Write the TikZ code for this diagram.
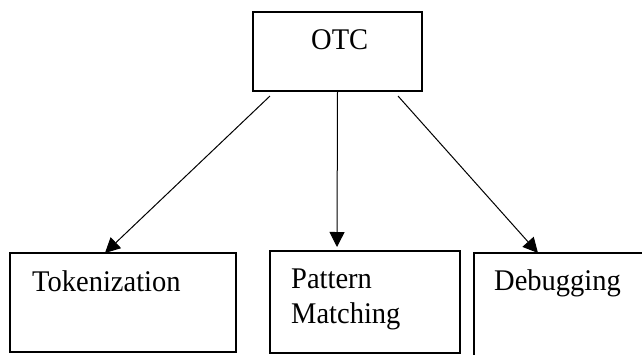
\documentclass[tikz,border=0pt]{standalone}
\usepackage{fontspec}
\setmainfont[FakeStretch=0.95]{Liberation Serif}
\usetikzlibrary{arrows.meta}
\begin{document}
\begin{tikzpicture}[x=1pt,y=-1pt,
  box/.style={draw,line width=1.3pt,rectangle,inner sep=0pt,outer sep=0pt,anchor=north west},
  lbl/.style={anchor=base west,inner sep=0pt,font=\fontsize{30}{34}\selectfont},
  arr/.style={line width=1pt,-{Triangle[length=15pt,width=15pt]}}]
\useasboundingbox (0,0) rectangle (642,354);
% boxes
\node[box,minimum width=169pt,minimum height=79pt] (otc) at (253,12) {};
\node[box,minimum width=226pt,minimum height=99pt] (tok) at (10,253) {};
\node[box,minimum width=190pt,minimum height=102pt] (pat) at (270,251) {};
\begin{scope}
  \clip (0,0) rectangle (642,354);
  \node[box,minimum width=240pt,minimum height=130pt] (dbg) at (474,253) {};
\end{scope}
% texts
\node[lbl] (totc) at (311,49) {OTC};
\node[lbl] (ttok) at (32,291) {Tokenization};
\node[lbl] (tpat1) at (291,288) {Pattern};
\node[lbl] (tpat2) at (291,323) {Matching};
\node[lbl] (tdbg) at (494,290) {Debugging};
% connectors
\draw[arr] ([xshift=17pt,yshift=-5pt]otc.south west) -- ([xshift=95pt]tok.north west);
\draw[arr] (otc.south) -- ([xshift=67pt,yshift=4pt]pat.north west);
\draw[arr] ([xshift=145pt,yshift=-5pt]otc.south west) -- ([xshift=64pt]dbg.north west);
\end{tikzpicture}
\end{document}
